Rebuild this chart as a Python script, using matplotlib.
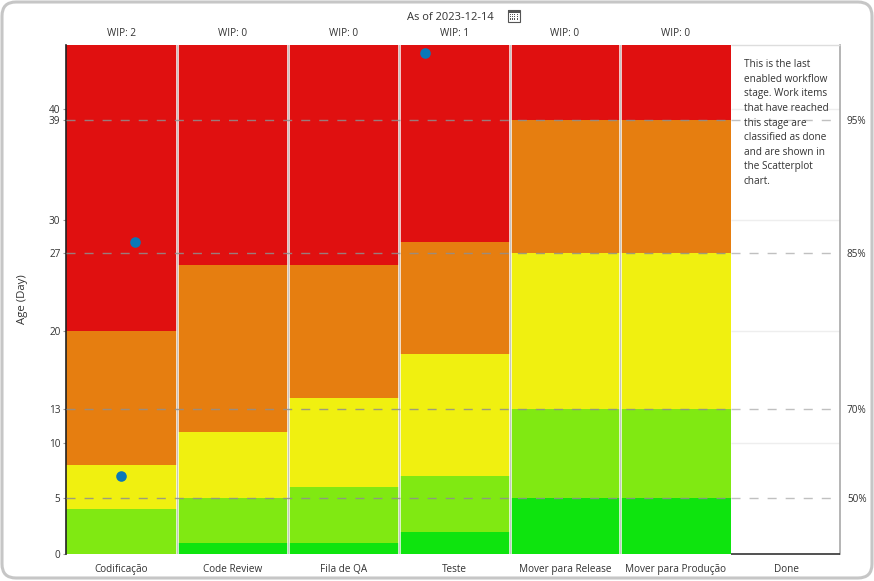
import matplotlib
matplotlib.use('Agg')
import matplotlib.pyplot as plt
from matplotlib.patches import FancyBboxPatch, Rectangle
from matplotlib.transforms import IdentityTransform

plt.rcParams['font.family'] = ['Open Sans', 'DejaVu Sans']
plt.rcParams['font.size'] = 7.2

stages = ['Codificação', 'Code Review', 'Fila de QA', 'Teste',
          'Mover para Release', 'Mover para Produção', 'Done']
wip = [2, 0, 0, 1, 0, 0, None]

# top of each band per stage, the last enabled stage has none
green_top = [0, 1, 1, 2, 5, 5]
lime_top = [4, 5, 6, 7, 13, 13]
yellow_top = [8, 11, 14, 18, 27, 27]
orange_top = [20, 26, 26, 28, 39, 39]
y_max = 45.73

band_colors = ['#0ee40e', '#80e912', '#f0f010', '#e67e10', '#e01010']

item_x = [0.5, 0.622, 3.237]
item_age = [7, 28, 45]

y_ticks = [0, 5, 10, 13, 20, 27, 30, 39, 40]
pct_ticks = [5, 13, 27, 39]
pct_labels = ['50%', '70%', '85%', '95%']
light_grid = [10, 20, 30, 40]

note = ('This is the last\nenabled workflow\nstage. Work items\nthat have reached\n'
        'this stage are\nclassified as done\nand are shown in\nthe Scatterplot\nchart.')

W, H = 874, 581
x_end = 6.98
fig = plt.figure(figsize=(W / 100, H / 100), dpi=100)
ax = fig.add_axes([66 / W, (H - 554) / H, 774 / W, 509 / H])
ax.set_xlim(0, x_end)
ax.set_ylim(0, y_max)
ax.patch.set_alpha(0)

# bands
prev = [0] * 6
tops = [green_top, lime_top, yellow_top, orange_top, [y_max] * 6]
for top, col in zip(tops, band_colors):
    for i in range(6):
        ax.bar(i + 0.5, top[i] - prev[i], width=1, bottom=prev[i], color=col, linewidth=0, zorder=2)
    prev = top

# faint grid shows only in the Done column
ax.hlines(light_grid, 6, x_end, color='#eeeeee', linewidth=1, zorder=1)

# column separators
for i in range(1, 6):
    ax.axvline(i, color='white', linewidth=1.8, zorder=3)
    ax.axvline(i, color='#c4c4c4', linewidth=0.8, zorder=4)

# percentile lines
dash = (0, (6.5, 6.5))
ax.hlines(pct_ticks, 0, 6, color='#8f8f8f', alpha=0.85, linewidth=1, linestyle=dash, zorder=5)
ax.hlines(pct_ticks, 6, x_end, color='#c0c0c0', linewidth=1, linestyle=dash, zorder=5)

ax.scatter(item_x, item_age, s=58, color='#0a78b8', linewidth=0, zorder=6, clip_on=False)

ax.set_xticks([i + 0.5 for i in range(7)])
ax.set_xticklabels(stages)
ax.set_yticks(y_ticks)
ax.tick_params(axis='x', length=0, pad=7, colors='#333333')
ax.tick_params(axis='y', length=2, width=0.8, pad=2, color='#999999', labelcolor='#333333')
ax.set_ylabel('Age (Day)', fontsize=8.2, color='#333333', labelpad=15)

# top and bottom rules only show over the Done column
ax.spines['top'].set_visible(False)
ax.spines['bottom'].set_visible(False)
ax.spines['left'].set_color('#222222')
ax.spines['left'].set_linewidth(1.2)
ax.spines['right'].set_color('#a8a8a8')
ax.spines['right'].set_linewidth(1.2)
ax.hlines(0, 6, x_end, color='#333333', linewidth=1.2, zorder=6, clip_on=False)
ax.hlines(y_max, 6, x_end, color='#dddddd', linewidth=1, zorder=6, clip_on=False)

ax2 = ax.twinx()
ax2.set_ylim(0, y_max)
ax2.set_yticks(pct_ticks)
ax2.set_yticklabels(pct_labels)
ax2.tick_params(axis='y', length=0, pad=5, labelcolor='#333333')
for s in ax2.spines.values():
    s.set_visible(False)

for i, n in enumerate(wip):
    if n is not None:
        ax.text(i + 0.5, y_max + 0.5, 'WIP: %d' % n, ha='center', va='bottom', color='#333333')

ax.text(6.11, 44.45, note, ha='left', va='top', color='#333333', linespacing=1.45, zorder=6)

# header and calendar icon, in pixels of the figure
def px(x, y):
    return x / W, (H - y) / H

hx, hy = px(450, 17)
fig.text(hx, hy, 'As of 2023-12-14', ha='center', va='center', color='#333333', fontsize=8)
cx, cy = px(508, 22)
fig.add_artist(Rectangle((cx, cy), 12 / W, 12 / H, transform=fig.transFigure,
                         facecolor='white', edgecolor='#555555', linewidth=0.8))
fig.add_artist(Rectangle((cx, cy + 9 / H), 12 / W, 3 / H, transform=fig.transFigure,
                         facecolor='#555555', edgecolor='none'))
for r in range(3):
    for c in range(4):
        dx, dy = px(509.5 + c * 2.4, 15 + r * 2.3)
        fig.add_artist(Rectangle((dx, dy), 1.2 / W, 1.2 / H, transform=fig.transFigure,
                                 facecolor='#555555', edgecolor='none'))

# rounded card border, drawn in pixels
fig.add_artist(FancyBboxPatch((2, 3), W - 4, H - 5,
                              boxstyle='round,pad=0,rounding_size=14', transform=IdentityTransform(),
                              facecolor='none', edgecolor='#c6c6c6', linewidth=2.2))

fig.savefig('out.png', dpi=100)
